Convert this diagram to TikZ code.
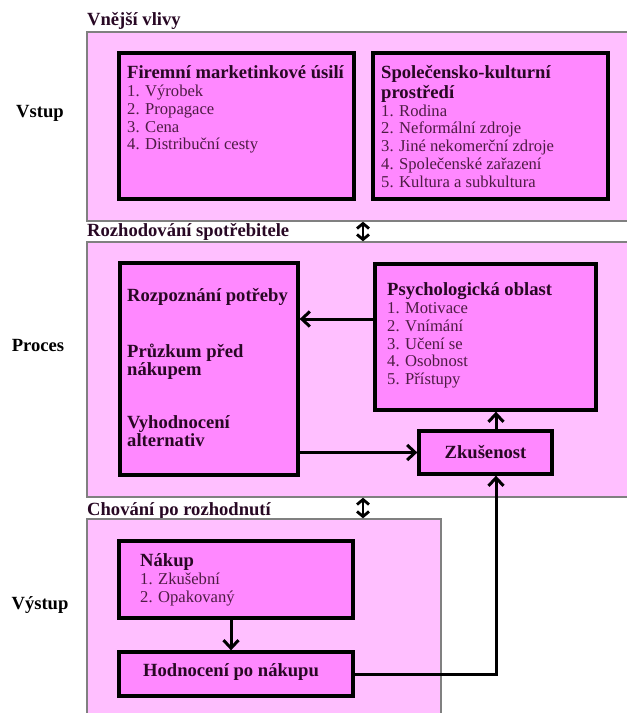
\documentclass[tikz,border=0pt]{standalone}
\usepackage{fontspec}
\setmainfont{Liberation Serif}
\usepackage{tikz}
\usetikzlibrary{calc}
\usetikzlibrary{arrows.meta}
\usepackage{xcolor}

\definecolor{panelpink}{RGB}{255,191,255}
\definecolor{boxpink}{RGB}{255,136,255}
\definecolor{panelline}{RGB}{128,128,128}
\definecolor{headtext}{RGB}{40,8,36}
\definecolor{itemtext}{RGB}{78,28,68}

\newcommand{\headfont}{\fontsize{18.6}{17.8}\selectfont\bfseries}
\newcommand{\itemfont}{\fontsize{16.6}{17.8}\selectfont}
\newcommand{\hd}[1]{{\color{headtext}\headfont #1}}

\begin{document}
\begin{tikzpicture}[x=1pt, y=-1pt,
		every node/.style={inner sep=0pt, font=\itemfont, text=itemtext},
		panel/.style={draw=panelline, line width=1.4pt, fill=panelpink},
		box/.style={draw=black, line width=3.3pt, fill=boxpink},
		boxtext/.style={anchor=north west, align=left},
		conn/.style={line width=3pt, -{Straight Barb[length=8pt,width=15pt]}},
		dbl/.style={line width=2.8pt, {Straight Barb[length=5pt,width=12pt]}-{Straight Barb[length=5pt,width=12pt]}},
		sidelabel/.style={anchor=base, font=\headfont, text=black},
		seclabel/.style={anchor=base west, font=\headfont, text=headtext}]
	\useasboundingbox (0,0) rectangle (627,713);

	% Panel 1: external influences
	\node[seclabel] (lvlivy) at (87,25) {Vnější vlivy};
	\node[panel, minimum width=543, minimum height=189] (vlivy) at (358.5,126.5) {};
	\node[sidelabel] (lvstup) at (40,117) {Vstup};
	\node[box, minimum width=235, minimum height=146] (fir) at (236.5,126) {};
	\node[box, minimum width=235, minimum height=146] (spol) at (490.5,126) {};
	\node[boxtext] (tfir) at (127,65.5) {\strut\hd{Firemní marketinkové úsilí}\\
		1. Výrobek\\ 2. Propagace\\ 3. Cena\\ 4. Distribuční cesty};
	\node[boxtext] (tspol) at (381,65.5) {\strut\hd{Společensko-kulturní}\\ \hd{prostředí}\\
		1. Rodina\\ 2. Neformální zdroje\\ 3. Jiné nekomerční zdroje\\
		4. Společenské zařazení\\ 5. Kultura a subkultura};

	% Panel 2: decision process
	\node[seclabel] (lrozh) at (87,236) {Rozhodování spotřebitele};
	\node[panel, minimum width=543, minimum height=255] (proc) at (358.5,369.5) {};
	\node[sidelabel] (lproces) at (38,351) {Proces};
	\node[box, minimum width=178, minimum height=212] (rozp) at (209,369) {};
	\node[box, minimum width=221, minimum height=146] (psy) at (485.5,337) {};
	\node[box, minimum width=133, minimum height=43, font=\headfont, text=headtext] (zk) at (485.5,452.5) {Zkušenost};
	\node[boxtext, font=\headfont, text=headtext] (trozp) at (127,288.5) {\strut Rozpoznání potřeby\\[35.6pt]
		Průzkum před\\ nákupem\\[35.6pt] Vyhodnocení\\ alternativ};
	\node[boxtext] (tpsy) at (387,282.5) {\strut\hd{Psychologická oblast}\\
		1. Motivace\\ 2. Vnímání\\ 3. Učení se\\ 4. Osobnost\\ 5. Přístupy};

	% Panel 3: post-decision behaviour
	\node[seclabel] (lchov) at (87,515) {Chování po rozhodnutí};
	\node[panel, minimum width=354, minimum height=201] (chov) at (264,619.5) {};
	\node[sidelabel] (lvystup) at (40,609) {Výstup};
	\node[box, minimum width=234, minimum height=77] (nak) at (236,579.5) {};
	\node[box, minimum width=234, minimum height=44] (hod) at (236,674) {};
	\node[boxtext] (tnak) at (140,553.5) {\strut\hd{Nákup}\\ 1. Zkušební\\ 2. Opakovaný};
	\node[anchor=base west, font=\headfont, text=headtext] (thod) at (143,676) {Hodnocení po nákupu};

	% links between panels
	\coordinate (dx) at (363,0);
	\draw[dbl] (dx |- vlivy.south) -- (dx |- proc.north);
	\draw[dbl] (dx |- proc.south) -- (dx |- chov.north);

	% connectors
	\draw[conn] ([yshift=18pt]psy.west) -- ([yshift=18pt]psy.west -| rozp.east);
	\draw[conn] (rozp.east |- zk.west) -- (zk.west);
	\draw[conn] ([xshift=10.5pt]zk.north) -- ([xshift=10.5pt]zk.north |- psy.south);
	\draw[conn] ([xshift=-5pt]nak.south) -- ([xshift=-5pt]hod.north);
	\draw[conn] (hod.east) -| ([xshift=10.5pt]zk.south);
\end{tikzpicture}
\end{document}
